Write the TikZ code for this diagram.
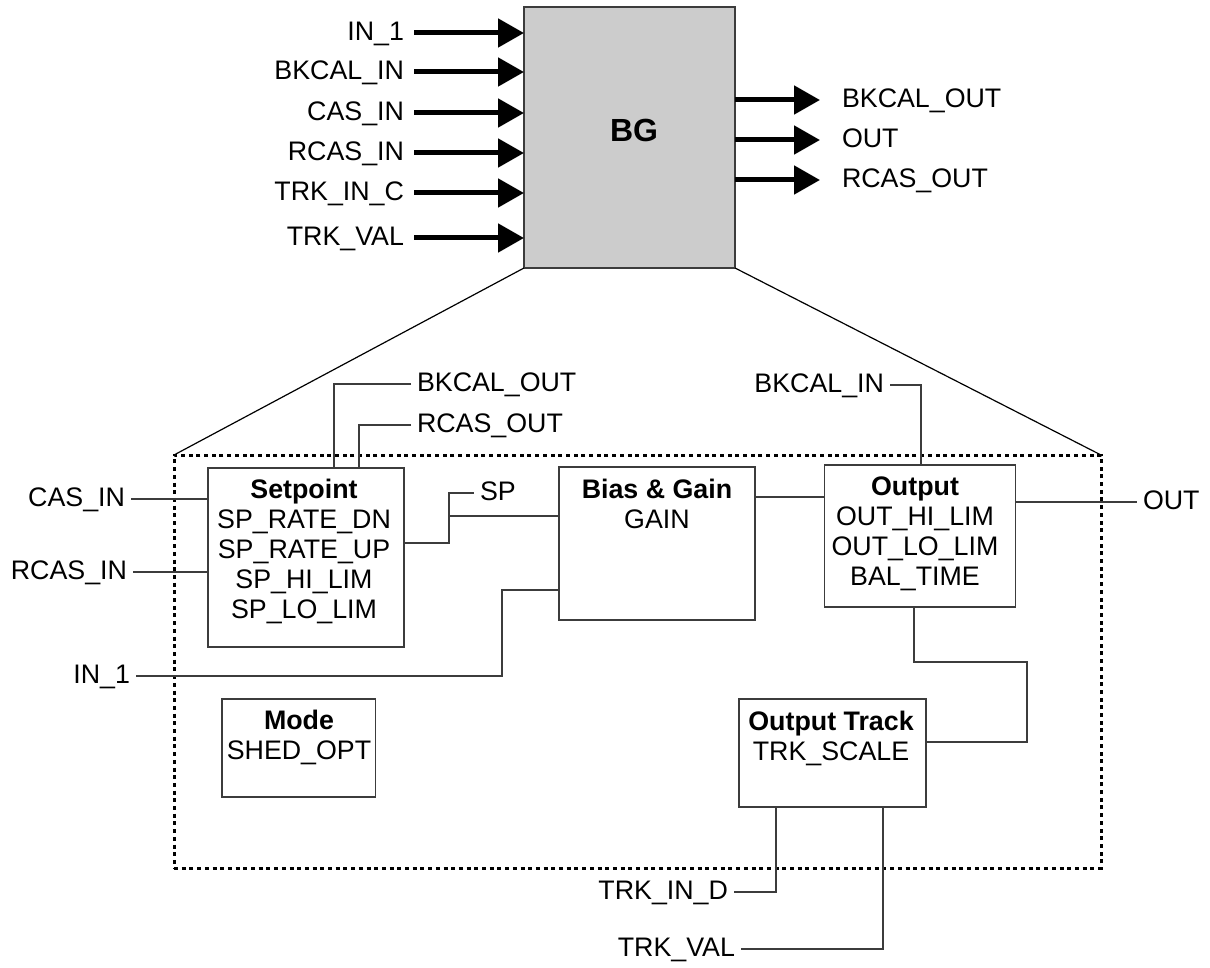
\documentclass[tikz,border=0pt]{standalone}
\usepackage{fontspec}
\setmainfont{Liberation Sans}
\usetikzlibrary{arrows.meta}
\definecolor{BoxGray}{RGB}{204,204,204}
\definecolor{EdgeGray}{RGB}{60,60,60}

\begin{document}
\begin{tikzpicture}[x=0.5pt,y=-0.5pt,
    font=\fontsize{13.4}{15}\selectfont,
    fat/.style={line width=2.5pt,-{Triangle[length=13pt,width=14pt]}},
    wire/.style={draw=EdgeGray,line width=0.6pt},
    lbl/.style={inner sep=3pt,outer sep=0pt,text height=0.72em,text depth=0pt},
    blk/.style={draw=EdgeGray,line width=0.7pt,inner sep=0pt,outer sep=0pt},
    blktxt/.style={anchor=north,align=center,inner sep=0pt},
    frame/.style={draw,line width=1.5pt,dash pattern=on 2pt off 1.85pt,inner sep=0pt,outer sep=0pt}]
  \useasboundingbox (0,0) rectangle (1210,968);
  % BG block with its inputs and outputs
  \node[blk,fill=BoxGray,minimum width=105.5pt,minimum height=130.5pt] (bg) at (629.5,137.5) {};
  \node[font=\fontsize{16}{18}\selectfont\bfseries,text height=0.72em,text depth=0pt,inner sep=0pt] (bgtxt) at (634,134.5) {BG};
  \foreach \nm/\txt/\yy in {i1/IN\_1/33,i2/BKCAL\_IN/72,i3/CAS\_IN/113,i4/RCAS\_IN/153,i5/TRK\_IN\_C/193,i6/TRK\_VAL/238}
  {
    \node[lbl,anchor=east] (t\nm) at (410,\yy) {\txt};
    \draw[fat] ([xshift=2pt]t\nm.east) -- (t\nm.east -| bg.west);
  }
  \foreach \nm/\txt/\yy in {o1/BKCAL\_OUT/100,o2/OUT/140,o3/RCAS\_OUT/180}
  {
    \node[lbl,anchor=west] (t\nm) at (836,\yy) {\txt};
    \draw[fat] (t\nm.west -| bg.east) -- ([xshift=-8pt]t\nm.west);
  }
  % expanded view
  \node[frame,minimum width=463.5pt,minimum height=206.5pt] (fr) at (637.5,661.5) {};
  \draw[wire,draw=black] (bg.south west) -- (fr.north west);
  \draw[wire,draw=black] (bg.south east) -- (fr.north east);

  \node[blk,minimum width=98pt,minimum height=89.5pt] (sp) at (306,557.5) {};
  \node[blktxt] (sptxt) at (304,479) {\textbf{Setpoint}\\SP\_RATE\_DN\\SP\_RATE\_UP\\SP\_HI\_LIM\\SP\_LO\_LIM};
  \node[blk,minimum width=98pt,minimum height=76.5pt] (bias) at (657,543.5) {};
  \node[blktxt] (biastxt) at (657,478.5) {\textbf{Bias \& Gain}\\GAIN};
  \node[blk,minimum width=95.25pt,minimum height=71pt] (out) at (920,536) {};
  \node[blktxt] (outtxt) at (915,476.5) {\textbf{Output}\\OUT\_HI\_LIM\\OUT\_LO\_LIM\\BAL\_TIME};
  \node[blk,minimum width=76.75pt,minimum height=49pt] (mode) at (298.75,748) {};
  \node[blktxt] (modetxt) at (299,709.5) {\textbf{Mode}\\SHED\_OPT};
  \node[blk,minimum width=93.5pt,minimum height=54pt] (trk) at (832.5,753) {};
  \node[blktxt] (trktxt) at (831,710.5) {\textbf{Output Track}\\TRK\_SCALE};

  \node[lbl,anchor=west] (bko) at (411,384) {BKCAL\_OUT};
  \node[lbl,anchor=west] (rco) at (411,425) {RCAS\_OUT};
  \node[lbl,anchor=east] (cas) at (131,499) {CAS\_IN};
  \node[lbl,anchor=east] (rci) at (133,572) {RCAS\_IN};
  \node[lbl,anchor=east] (in1) at (136,676) {IN\_1};
  \node[lbl,anchor=west] (spl) at (474,493) {SP};
  \node[lbl,anchor=east] (bki) at (890,385) {BKCAL\_IN};
  \node[lbl,anchor=west] (outl) at (1137,502) {OUT};
  \node[lbl,anchor=east] (tid) at (734,892) {TRK\_IN\_D};
  \node[lbl,anchor=east] (tvl) at (741,949) {TRK\_VAL};

  \draw[wire] (bko.west) -| ([xshift=14pt]sp.north);
  \draw[wire] (rco.west) -| ([xshift=26.5pt]sp.north);
  \draw[wire] (cas.east) -- (cas.east -| sp.west);
  \draw[wire] (rci.east) -- (rci.east -| sp.west);
  \coordinate (spj) at (449,516);
  \draw[wire] (sp.east |- 0,543) -| (spj) |- (spl.west);
  \draw[wire] (spj) -- (spj -| bias.west);
  \coordinate (inj) at (502,590);
  \draw[wire] (in1.east) -| (inj) -- (inj -| bias.west);
  \draw[wire] (bias.east |- 0,497) -- (out.west |- 0,497);
  \draw[wire] (bki.east) -| ([xshift=0.5pt]out.north);
  \draw[wire] (out.east |- 0,502) -- (outl.west);
  \coordinate (oj) at (1027,662);
  \draw[wire] ([xshift=-3pt]out.south) |- (oj) |- (trk.east |- 0,742);
  \draw[wire] (tid.east) -| ([xshift=18.5pt]trk.south west);
  \draw[wire] (tvl.east) -| ([xshift=72pt]trk.south west);
\end{tikzpicture}
\end{document}
